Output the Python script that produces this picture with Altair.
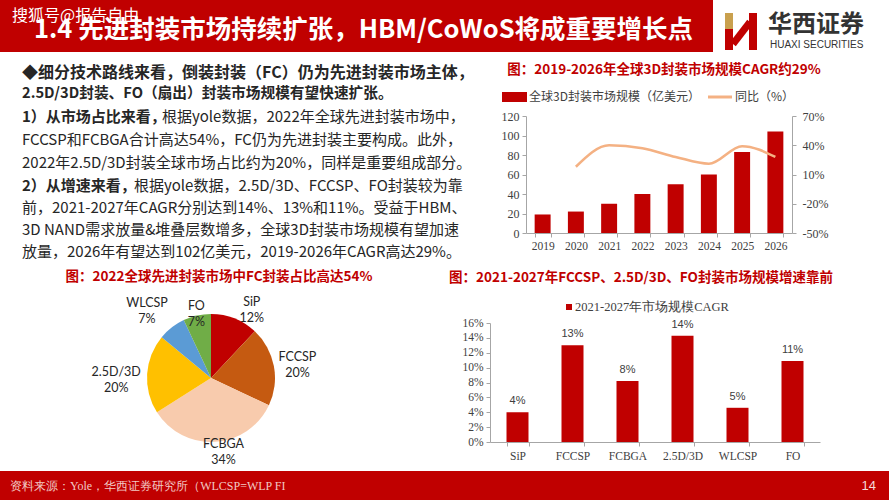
import altair as alt
import pandas as pd

RED = "#C00000"
SANS = "Noto Sans CJK SC"
SERIF = "Liberation Serif"
DARK = "#262626"
AXIS_GREY = "#A6A6A6"

# ---------------- data ----------------
years = ["2019", "2020", "2021", "2022", "2023", "2024", "2025", "2026"]
market_size = [19, 22, 30, 40, 50, 60, 83, 104]
yoy_pct = [None, 18, 40, 37, 28, 21, 39, 28]
size_ticks = [0, 20, 40, 60, 80, 100, 120]
yoy_ticks = [-50, -20, 10, 40, 70]

share_cats = ["SiP", "FCCSP", "FCBGA", "2.5D/3D", "WLCSP", "FO"]
share_pct = [12, 20, 34, 20, 7, 7]
share_colors = ["#C00000", "#C55A11", "#F8CBAD", "#FFC000", "#5B9BD5", "#70AD47"]

cagr_cats = ["SiP", "FCCSP", "FCBGA", "2.5D/3D", "WLCSP", "FO"]
cagr_pct = [4.0, 13.0, 8.2, 14.3, 4.6, 10.9]
cagr_ticks = [0, 2, 4, 6, 8, 10, 12, 14, 16]

slide_title = "1.4 先进封装市场持续扩张，HBM/CoWoS将成重要增长点"
watermark = "搜狐号@报告自由"
title_a = "图：2019-2026年全球3D封装市场规模CAGR约29%"
title_b = "图：2021-2027年FCCSP、2.5D/3D、FO封装市场规模增速靠前"
title_c = "图：2022全球先进封装市场中FC封装占比高达54%"
legend_a_bar = "全球3D封装市场规模（亿美元）"
legend_a_line = "同比（%）"
legend_b = "2021-2027年市场规模CAGR"
source_text = "资料来源：Yole，华西证券研究所（WLCSP=WLP FI"
page_no = "14"

body_bold = [
    "◆细分技术路线来看，倒装封装（FC）仍为先进封装市场主体，",
    "2.5D/3D封装、FO（扇出）封装市场规模有望快速扩张。",
    "1）从市场占比来看，",
    "",
    "",
    "2）从增速来看，",
    "",
    "",
    "",
]
body_regular = [
    "",
    "",
    "根据yole数据，2022年全球先进封装市场中，",
    "FCCSP和FCBGA合计高达54%，FC仍为先进封装主要构成。此外，",
    "2022年2.5D/3D封装全球市场占比约为20%，同样是重要组成部分。",
    "根据yole数据，2.5D/3D、FCCSP、FO封装较为靠",
    "前，2021-2027年CAGR分别达到14%、13%和11%。受益于HBM、",
    "3D NAND需求放量&堆叠层数增多，全球3D封装市场规模有望加速",
    "放量，2026年有望达到102亿美元，2019-2026年CAGR高达29%。",
]

one = pd.DataFrame({"_": [0]})


def box(x1, x2, y1, y2, color):
    return alt.Chart(one).mark_rect(color=color).encode(
        x=alt.value(x1), x2=alt.value(x2), y=alt.value(y1), y2=alt.value(y2)
    )


def txt(s, x, y, size, color=DARK, weight="normal", font=SANS, align="left"):
    return alt.Chart(one).mark_text(
        text=s, fontSize=size, color=color, fontWeight=weight, font=font,
        align=align, baseline="middle"
    ).encode(x=alt.value(x), y=alt.value(y))


layers = []

# ---------------- header ----------------
layers.append(box(0, 713, 0, 52, RED))
layers.append(txt(slide_title, 34, 30, 25.5, "white", "bold"))
layers.append(txt(watermark, 12, 16, 16, "white"))
# logo
layers.append(box(725, 733, 13, 29, "#C9A04E"))
layers.append(box(725, 733, 29, 50, RED))
layers.append(box(749, 757, 13, 50, RED))
layers.append(alt.Chart(one).mark_rule(color=RED, strokeWidth=7).encode(
    x=alt.value(733), y=alt.value(44), x2=alt.value(750), y2=alt.value(22)))
layers.append(txt("华西证券", 768, 25, 24, "#333333", "bold"))
layers.append(txt("HUAXI SECURITIES", 770, 45, 10, "#333333", "normal", "Liberation Sans"))

# ---------------- body text ----------------
body_y = [73, 94, 117, 140, 163, 186, 208, 230, 252]
bold_size = [16, 14.7, 15, 15, 15, 15, 15, 15, 15]
for i in range(len(body_y)):
    if body_bold[i]:
        layers.append(txt(body_bold[i], 22, body_y[i], bold_size[i], DARK, "bold"))
    if body_regular[i]:
        rx = 22
        if i == 2:
            rx = 162
        if i == 5:
            rx = 134
        layers.append(txt(body_regular[i], rx, body_y[i], 15, DARK, "normal"))

# ---------------- chart A: market size + yoy ----------------
dfA = pd.DataFrame({"year": years, "size": market_size, "yoy": yoy_pct})
xA = alt.X(
    "year:O",
    scale=alt.Scale(type="band", domain=years, range=[526, 792],
                    paddingInner=0.52, paddingOuter=0.26),
    axis=alt.Axis(title=None, orient="bottom", offset=-267, labelAngle=0,
                  labelFont=SERIF, labelFontSize=11.5, labelColor="#404040",
                  domainColor=AXIS_GREY, tickColor=AXIS_GREY, tickSize=4,
                  tickBand="extent", labelPadding=3, grid=False),
)
barsA = alt.Chart(dfA).mark_bar(color=RED).encode(
    x=xA,
    y=alt.Y("size:Q",
            scale=alt.Scale(domain=[0, 120], range=[233, 116], nice=False, zero=True),
            axis=alt.Axis(title=None, orient="left", offset=-526, values=size_ticks,
                          labelFont=SERIF, labelFontSize=12, labelColor="#404040",
                          domainColor=AXIS_GREY, tickColor=AXIS_GREY, tickSize=4,
                          labelPadding=3, grid=False)),
)
lineA = alt.Chart(dfA).mark_line(color="#F4B183", strokeWidth=2.6,
                                 interpolate="monotone").encode(
    x=xA,
    y=alt.Y("yoy:Q",
            scale=alt.Scale(domain=[-50, 70], range=[233, 116], nice=False, zero=False),
            axis=alt.Axis(title=None, orient="right", offset=-97, values=yoy_ticks,
                          labelExpr="datum.value + '%'",
                          labelFont=SERIF, labelFontSize=12, labelColor="#404040",
                          domainColor=AXIS_GREY, tickColor=AXIS_GREY, tickSize=4,
                          labelPadding=6, grid=False)),
)
chartA = alt.layer(barsA, lineA).resolve_scale(y="independent")
layers.append(chartA)
layers.append(txt(title_a, 664, 70, 13.5, RED, "bold", align="center"))
layers.append(box(502, 527, 92, 102, RED))
layers.append(txt(legend_a_bar, 529, 97, 12, "#404040"))
layers.append(alt.Chart(one).mark_rule(color="#F4B183", strokeWidth=3).encode(
    x=alt.value(708), x2=alt.value(732), y=alt.value(97)))
layers.append(txt(legend_a_line, 735, 97, 12, "#404040"))

# ---------------- chart B: CAGR bars ----------------
dfB = pd.DataFrame({"cat": cagr_cats, "v": cagr_pct})
xB = alt.X(
    "cat:N",
    scale=alt.Scale(type="band", domain=cagr_cats, range=[490, 820],
                    paddingInner=0.6, paddingOuter=0.3),
    axis=alt.Axis(title=None, orient="bottom", offset=-58, labelAngle=0,
                  labelFont=SERIF, labelFontSize=11.5, labelColor="#404040",
                  domainColor=AXIS_GREY, tickColor=AXIS_GREY, tickSize=4,
                  tickBand="extent", labelPadding=4, grid=False),
)
yB = alt.Y("v:Q",
           scale=alt.Scale(domain=[0, 16], range=[442, 323], nice=False, zero=True),
           axis=alt.Axis(title=None, orient="left", offset=-490, values=cagr_ticks,
                         labelExpr="datum.value + '%'",
                         labelFont=SERIF, labelFontSize=11.5, labelColor="#404040",
                         domainColor=AXIS_GREY, tickColor=AXIS_GREY, tickSize=4,
                         labelPadding=3, grid=False))
barsB = alt.Chart(dfB).mark_bar(color=RED).encode(x=xB, y=yB)
labB = alt.Chart(dfB).transform_calculate(
    lab="format(datum.v, '.0f') + '%'"
).mark_text(font="Liberation Sans", fontSize=11, color="#404040", dy=-11).encode(
    x=xB, y=yB, text="lab:N")
chartB = alt.layer(barsB, labB)
layers.append(chartB)
layers.append(txt(title_b, 641, 278, 13.5, RED, "bold", align="center"))
layers.append(box(566, 572, 304, 310, RED))
layers.append(txt(legend_b, 575, 307, 12.5, "#404040", font=SERIF))

# ---------------- chart C: pie ----------------
dfC = pd.DataFrame({"cat": share_cats, "share": share_pct})
pie_base = alt.Chart(dfC).transform_window(idx="row_number()").transform_calculate(
    lab="datum.cat + '\\n' + datum.share + '%'"
)
CX, CY = 211, 378
arc = pie_base.mark_arc(outerRadius=64).encode(
    theta=alt.Theta("share:Q", stack=True),
    color=alt.Color("cat:N", scale=alt.Scale(domain=share_cats, range=share_colors),
                    legend=None),
    order=alt.Order("idx:Q"),
    x=alt.value(CX), y=alt.value(CY),
)
pie_layers = [arc]
label_place = {
    "SiP": (78, 12, -3),
    "FCCSP": (88, 0, -5),
    "FCBGA": (73, 8, -7),
    "2.5D/3D": (95, 0, 0),
    "WLCSP": (93, -7, -2),
    "FO": (67, 0, -7),
}
for c in share_cats:
    r, ddx, ddy = label_place[c]
    pie_layers.append(
        pie_base.mark_text(radius=r, dx=ddx, dy=ddy, lineBreak="\n", lineHeight=16,
                           font="Lato", fontSize=12.5, color=DARK,
                           align="center", baseline="middle").encode(
            theta=alt.Theta("share:Q", stack=True),
            order=alt.Order("idx:Q"),
            text=alt.condition(f"datum.cat == '{c}'", alt.Text("lab:N"), alt.value("")),
            x=alt.value(CX), y=alt.value(CY),
        )
    )
chartC = alt.layer(*pie_layers)
layers.append(chartC)
layers.append(txt(title_c, 219, 277, 13.5, RED, "bold", align="center"))

# ---------------- footer ----------------
layers.append(box(0, 889, 471, 500, RED))
layers.append(txt(source_text, 10, 486, 12, "#F2C9C4", font="Liberation Serif"))
layers.append(txt(page_no, 876, 486, 13, "#F5DADA", font="Liberation Sans", align="right"))

chart = alt.layer(*layers).resolve_scale(
    x="independent", y="independent", theta="independent", color="independent"
).properties(
    width=889, height=500, padding=0,
    autosize=alt.AutoSizeParams(type="none"),
    background="white",
).configure_view(strokeWidth=0)

chart.save("out.html", embed_options={"renderer": "svg", "actions": False})
